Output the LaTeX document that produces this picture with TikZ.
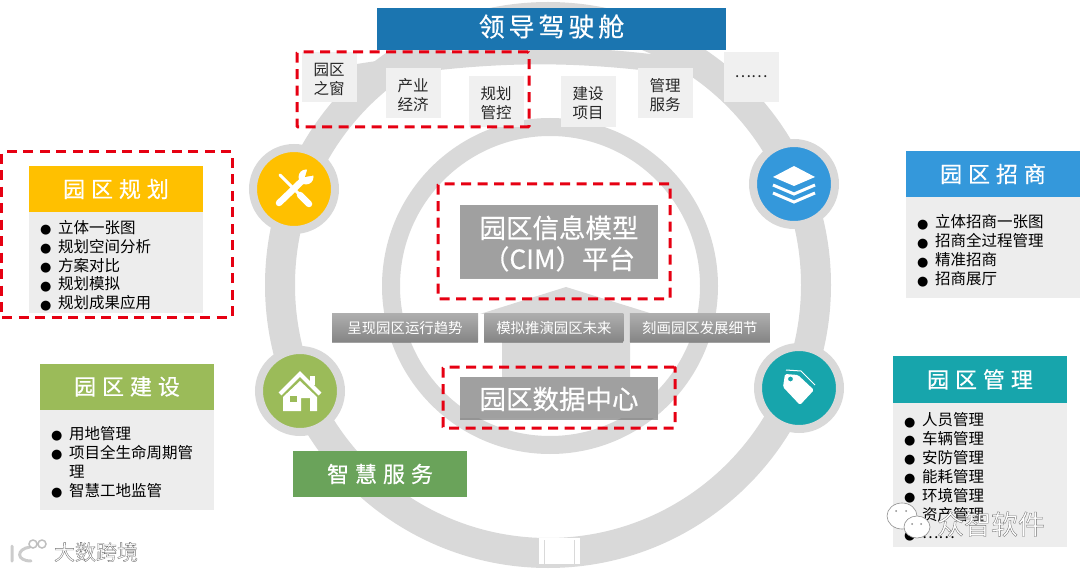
\documentclass[tikz,border=0pt]{standalone}
\usepackage{fontspec}
\usepackage{xcolor}
\usetikzlibrary{positioning,shadows,backgrounds}
\setmainfont{Noto Sans CJK SC}
\newfontfamily\wideA[LetterSpace=15,FakeBold=0.5]{Noto Sans CJK SC}
\newfontfamily\wideB[LetterSpace=27,FakeBold=0.5]{Noto Sans CJK SC}
\newfontfamily\plainbold[FakeBold=0.5]{Noto Sans CJK SC}
\newfontfamily\symbfont{DejaVu Sans}
\definecolor{ringGray}{RGB}{217,217,217}
\definecolor{tabGray}{RGB}{240,240,240}
\definecolor{cardGray}{RGB}{237,237,237}
\definecolor{boxGray}{RGB}{160,160,160}
\definecolor{markRed}{RGB}{230,0,18}
\definecolor{cockpitBlue}{RGB}{27,117,176}
\definecolor{planYellow}{RGB}{255,192,0}
\definecolor{buildGreen}{RGB}{155,187,89}
\definecolor{serviceGreen}{RGB}{106,163,90}
\definecolor{investBlue}{RGB}{52,152,219}
\definecolor{manageTeal}{RGB}{23,165,172}
\newcommand{\bul}[1]{\makebox[18pt][l]{\raisebox{-0.5pt}{\fontsize{13}{13}\symbfont ●}}#1\\}
\newcommand{\low}[2]{\raisebox{-#1}[\height][\depth]{#2}}
\newcommand{\two}[2]{\low{2pt}{#1}\\\low{2pt}{#2}}
\newcommand{\ghost}[1]{\special{pdf:code q 2 Tr 0.35 w 0.45 G}#1\special{pdf:code Q}}
\begin{document}
\begin{tikzpicture}[
    x=1pt,y=-1pt,
    ring/.style={draw=ringGray,line width=#1},
    tabbox/.style={fill=tabGray,minimum width=55pt,minimum height=50pt,inner sep=0pt,align=center,text=black!85,font=\fontsize{15.5}{19}\selectfont},
    head/.style={minimum width=174pt,minimum height=46pt,inner sep=0pt,text=white,font=\fontsize{22}{22}\wideB},
    cardbody/.style={fill=cardGray,minimum width=174pt,inner sep=0pt},
    cardlist/.style={anchor=north west,inner sep=0pt,align=left,text=black,font=\fontsize{15.5}{18.9}\selectfont},
    bigbox/.style={minimum width=198pt,inner sep=0pt,align=center,text=white,fill=boxGray,
      drop shadow={shadow xshift=0pt,shadow yshift=-1.5pt,fill=black!60,opacity=0.6},font=\fontsize{26.5}{31}\plainbold},
    midbox/.style={minimum height=28pt,inner sep=0pt,text=white,top color=black!32,bottom color=black!48,
      drop shadow={shadow xshift=0pt,shadow yshift=-1.5pt,fill=black!60,opacity=0.6},font=\fontsize{14.4}{14.4}\selectfont},
    redbox/.style={draw=markRed,line width=3pt,dash pattern=on 10pt off 6.5pt,rounded corners=1pt,inner sep=0pt},
    badge/.style={circle,fill=#1,draw=ringGray,line width=8pt,minimum size=82pt,inner sep=0pt},
  ]
    \useasboundingbox (0,0) rectangle (1080,572);
    % rings
    \draw[ring=30pt] (548,285) circle (268);
    \draw[ring=18pt] (550,286) circle (159);
    \fill[white] (539,538) rectangle (580,564);
    \draw[ringGray,line width=1pt] (544.5,540) -- (544.5,564) (574.5,540) -- (574.5,564);
    % block arrow between data centre and CIM
    \fill[ringGray] (566,287) -- (653,314) -- (630,314) -- (630,385) -- (502,385) -- (502,314) -- (480,314) -- cycle;
    % top row
    \node[fill=cockpitBlue,minimum width=349pt,minimum height=42pt,inner sep=0pt,text=white,font=\fontsize{26}{26}\wideA] (cockpit) at (551.5,29) {\low{-2.5pt}{领导驾驶舱}};
    \node[tabbox] (window) at (329,77) {\two{园区}{之窗}};
    \node[tabbox] (industry) at (413,93) {\two{产业}{经济}};
    \node[tabbox,minimum height=51pt] (planctrl) at (496,101.5) {\two{规划}{管控}};
    \node[tabbox,minimum height=51pt] (project) at (588,101.5) {\two{建设}{项目}};
    \node[tabbox] (service) at (665,93) {\two{管理}{服务}};
    \node[tabbox] (more) at (751,77) {……};
    \begin{scope}[on background layer]
      \draw[ring=17pt] (window) to[bend left=9] (more);
    \end{scope}
    % center
    \node[bigbox,minimum height=73pt] (cim) at (559,241.5) {\low{2pt}{园区信息模型}\\\low{2pt}{（CIM）平台}};
    \node[bigbox,minimum height=41pt] (datacenter) at (559,397.5) {\low{1.5pt}{园区数据中心}};
    \node[midbox,minimum width=146pt] (trend) at (405,328) {呈现园区运行趋势};
    \node[midbox,minimum width=139pt,right=6pt of trend] (future) {模拟推演园区未来};
    \node[midbox,minimum width=140pt,right=6pt of future] (detail) {刻画园区发展细节};
    % red marks
    \node[redbox,minimum width=232pt,minimum height=75pt] (tabsmark) at (413,89.5) {};
    \node[redbox,minimum width=231pt,minimum height=166pt] (planmark) at (116.5,235) {};
    \node[redbox,minimum width=232pt,minimum height=115pt] (cimmark) at (554,241.5) {};
    \node[redbox,minimum width=232pt,minimum height=61pt] (datamark) at (559,397.5) {};
    % badges
    \node[badge=planYellow] (planbadge) at (294,189) {};
    \node[badge=investBlue] (investbadge) at (794,184) {};
    \node[badge=buildGreen] (buildbadge) at (300,391) {};
    \node[badge=manageTeal] (managebadge) at (799,388) {};
    % tools icon
    \begin{scope}[shift={(planbadge.center)},white,line cap=round]
      \draw[line width=3pt] (-14,-14) -- (4,4);
      \draw[line width=6.5pt] (6,6) -- (15,15);
      \draw[line width=6.5pt] (-15,14) -- (9,-9);
      \fill (12,-12) circle (7.5);
      \fill[planYellow] (11,-12) -- (14,-22) -- (22,-14) -- cycle;
    \end{scope}
    % stack icon
    \begin{scope}[shift={(investbadge.center)},white]
      \fill (0,-18) -- (21,-7) -- (0,2) -- (-21,-7) -- cycle;
      \draw[line width=3pt] (-21,1) -- (0,10) -- (21,1);
      \draw[line width=3pt] (-21,9) -- (0,18) -- (21,9);
    \end{scope}
    % house icon
    \begin{scope}[shift={(buildbadge.center)},white]
      \draw[line width=4pt] (-20,3) -- (0,-17) -- (20,3);
      \fill (10,-15) rectangle (15,-6);
      \fill (-17,6) -- (0,-10) -- (17,6) -- (17,20) -- (10,20) -- (10,7) -- (1,7) -- (1,20) -- (-17,20) -- cycle;
      \fill[buildGreen] (-10,5) rectangle (-3,11);
    \end{scope}
    % tag icon
    \begin{scope}[shift={(managebadge.center)},white]
      \fill[rounded corners=1.5pt,even odd rule] (-14,-14) -- (-1,-13) -- (15,2) -- (1,17) -- (-16,-1) -- cycle (-8.5,-9) circle (2.5);
      \draw[line width=1pt] (-13,-18) -- (2,-17) -- (16,-3);
    \end{scope}
    % cards
    \node[head,fill=planYellow] (planhead) at (116,189) {园区规划};
    \node[cardbody,minimum height=101pt,below=0pt of planhead] (planbody) {};
    \node[cardlist] (planlist) at ([xshift=11pt,yshift=-7.7pt]planbody.north west) {\bul{立体一张图}\bul{规划空间分析}\bul{方案对比}\bul{规划模拟}\bul{规划成果应用}};
    \node[head,fill=buildGreen] (buildhead) at (127,386.5) {园区建设};
    \node[cardbody,minimum height=100pt,below=0pt of buildhead] (buildbody) {};
    \node[cardlist] (buildlist) at ([xshift=11pt,yshift=-16.4pt]buildbody.north west) {\bul{用地管理}\bul{项目全生命周期管}\hspace*{18pt}理\\\bul{智慧工地监管}};
    \node[head,fill=serviceGreen] (smartservice) at (380,474) {智慧服务};
    \node[head,fill=investBlue] (investhead) at (993,174) {园区招商};
    \node[cardbody,minimum height=101pt,below=0pt of investhead] (investbody) {};
    \node[cardlist] (investlist) at ([xshift=11pt,yshift=-17.4pt]investbody.north west) {\bul{立体招商一张图}\bul{招商全过程管理}\bul{精准招商}\bul{招商展厅}};
    \node[head,fill=manageTeal] (managehead) at (980,379.5) {园区管理};
    \node[cardbody,minimum height=144pt,below=0pt of managehead] (managebody) {};
    \node[cardlist] (managelist) at ([xshift=11pt,yshift=-9.6pt]managebody.north west) {\bul{人员管理}\bul{车辆管理}\bul{安防管理}\bul{能耗管理}\bul{环境管理}\bul{资产管理}\bul{……}};
    % watermarks
    \begin{scope}[draw=black!45,fill=white,line width=0.6pt]
      \filldraw (902,516) ellipse (15 and 13);
      \filldraw (917,527) ellipse (13 and 11);
      \fill[black!45] (896,511) circle (1) (906,511) circle (1) (912,524) circle (1) (921,524) circle (1);
      \draw[line width=3pt,black!20,line cap=round] (12,546) -- (12,561) (30,547) .. controls (16,549) and (16,561) .. (31,561);
      \draw[black!25,line width=1.5pt] (33,544) circle (4) (42,544) circle (4);
    \end{scope}
    \node[inner sep=0pt,text=white,font=\fontsize{27}{27}\selectfont] (markright) at (991,524) {\ghost{众智软件}};
    \node[inner sep=0pt,text=white,font=\fontsize{21}{21}\selectfont] (markleft) at (96,552) {\ghost{大数跨境}};
  \end{tikzpicture}
\end{document}
